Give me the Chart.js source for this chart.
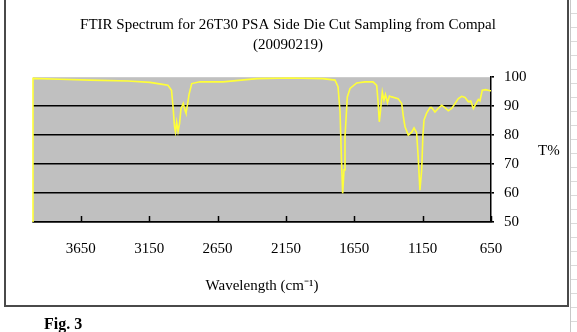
<!DOCTYPE html>
<html>
<head>
<meta charset="utf-8">
<script src="https://cdn.jsdelivr.net/npm/chart.js@4/dist/chart.umd.min.js"></script>
<style>
  body { margin: 0; background: #fff; }
  #pagina { position: relative; width: 577px; height: 332px; overflow: hidden; }
  #grafico { position: absolute; left: 0; top: 0; }
  #moldura { position: absolute; left: 4px; top: -3px; width: 561px; height: 306px; border: 2px solid #4a4a4a; pointer-events: none; }
  #planilha { position: absolute; left: 570px; top: 0; width: 7px; height: 332px; border-left: 1px solid #c8c8c8;
    background: repeating-linear-gradient(to bottom, transparent 0 13px, #dadada 13px 14px); }
  .texto { position: absolute; font-family: "Liberation Serif", "Times New Roman", serif; color: #000; }
  #eixoT { left: 538px; top: 142px; font-size: 15px; }
  #figura { left: 44px; top: 315px; font-size: 16px; font-weight: bold; }
</style>
</head>
<body>
<div id="pagina">
  <canvas id="grafico" width="577" height="332"></canvas>
  <div id="moldura"></div>
  <div id="planilha"></div>
  <div class="texto" id="eixoT">T%</div>
  <div class="texto" id="figura">Fig. 3</div>
</div>
<script>
const titulo = ["FTIR Spectrum for 26T30 PSA Side Die Cut Sampling from Compal", "(20090219)"];
const rotulosX = [3650, 3150, 2650, 2150, 1650, 1150, 650];
const rotulosY = [50, 60, 70, 80, 90, 100];

// wavenumber (cm-1) and transmittance
const numerosOnda = [4000, 4000, 3803, 3583, 3305, 3144, 3064, 3013, 2987, 2976, 2965, 2958, 2949, 2939, 2928, 2918,
  2901, 2888, 2881, 2870, 2859, 2839, 2779, 2610, 2362, 2120, 1879, 1791, 1769, 1754, 1744, 1735, 1725, 1718,
  1701, 1681, 1632, 1572, 1513, 1486, 1477, 1467, 1459, 1445, 1433, 1422, 1407, 1393, 1376, 1330, 1303, 1290,
  1279, 1255, 1230, 1213, 1194, 1182, 1170, 1157, 1148, 1140, 1121, 1096, 1084, 1060, 1036, 1011, 987, 962,
  938, 913, 889, 864, 840, 816, 798, 779, 760, 743, 731, 714, 689, 657, 650];
const transmitancia = [50, 99.6, 99.3, 99.0, 98.7, 98.2, 97.6, 97.2, 95.5, 90, 83, 81.1, 84.5, 81.3, 84, 89,
  90.9, 88.5, 87.6, 90.5, 94, 97.8, 98.4, 98.4, 99.5, 99.7, 99.5, 99.0, 96.7, 88, 72, 59.9, 68, 79.4,
  93.2, 96.1, 98.0, 98.4, 98.4, 97.2, 92, 84.6, 88, 94.9, 92, 94, 91.2, 93.5, 93.2, 92.6, 90.9, 86,
  82.9, 80, 81, 82.5, 80.8, 72, 61, 68, 80, 85.2, 87.6, 89.5, 89.5, 88, 89.2, 90.3, 89.5, 88.4,
  89.2, 90.9, 92.6, 93.4, 93, 91.5, 91.8, 89.2, 90.9, 92.3, 91.8, 95.5, 95.7, 95.3, 95.3];

const pontos = numerosOnda.map((x, i) => ({ x: x, y: transmitancia[i] }));
const fonteSerif = "'Liberation Serif', 'Times New Roman', serif";

// gray plot area like the Excel chart
const fundoCinza = {
  id: 'fundoCinza',
  beforeDraw(chart) {
    const { ctx, chartArea: a } = chart;
    ctx.save();
    ctx.fillStyle = '#c0c0c0';
    ctx.fillRect(a.left, a.top, a.right - a.left, a.bottom - a.top);
    ctx.restore();
  }
};

// tick marks on the x axis point up into the plot
const marcasInternas = {
  id: 'marcasInternas',
  afterDraw(chart) {
    const { ctx, chartArea: a } = chart;
    const escala = chart.scales.x;
    ctx.save();
    ctx.strokeStyle = '#000';
    ctx.lineWidth = 1.5;
    rotulosX.forEach((v) => {
      const px = Math.round(escala.getPixelForValue(v)) + 0.5;
      ctx.beginPath();
      ctx.moveTo(px, a.bottom);
      ctx.lineTo(px, a.bottom - 6);
      ctx.stroke();
    });
    ctx.restore();
  }
};

const grafico = new Chart(document.getElementById('grafico'), {
  type: 'line',
  data: {
    datasets: [{
      label: 'T%',
      data: pontos,
      borderColor: '#ffff38',
      borderWidth: 1.6,
      pointRadius: 0,
      tension: 0,
      clip: false
    }]
  },
  options: {
    responsive: false,
    animation: false,
    layout: { padding: { left: 33, right: 34, top: 5, bottom: 32 } },
    plugins: {
      legend: { display: false },
      tooltip: { enabled: false },
      title: {
        display: true,
        text: titulo,
        color: '#000',
        font: { family: fonteSerif, size: 15, weight: 'normal', lineHeight: 1.34 },
        padding: { top: 10, bottom: 22 }
      }
    },
    scales: {
      x: {
        type: 'linear',
        reverse: true,
        min: 650,
        max: 4000,
        afterBuildTicks: (s) => { s.ticks = rotulosX.map((v) => ({ value: v })); },
        afterFit: (s) => { s.height = 78; },
        grid: { display: false },
        border: { display: true, color: '#000', width: 1.5 },
        ticks: {
          autoSkip: false,
          maxRotation: 0,
          padding: 10,
          color: '#000',
          font: { family: fonteSerif, size: 15 },
          callback: (v) => String(v)
        },
        title: {
          display: true,
          text: 'Wavelength (cm⁻¹)',
          color: '#000',
          font: { family: fonteSerif, size: 15 },
          padding: { top: 0, bottom: 5 }
        }
      },
      y: {
        position: 'right',
        min: 50,
        max: 100,
        afterBuildTicks: (s) => { s.ticks = rotulosY.map((v) => ({ value: v })); },
        afterFit: (s) => { s.width = 52; },
        grid: {
          color: (c) => (c.tick && c.tick.value === 100 ? 'rgba(0,0,0,0)' : '#000'),
          tickColor: '#000',
          lineWidth: 1.6,
          tickLength: 3
        },
        border: { display: true, color: '#000', width: 1.5 },
        ticks: {
          padding: 10,
          color: '#000',
          font: { family: fonteSerif, size: 15 }
        }
      }
    }
  },
  plugins: [fundoCinza, marcasInternas]
});
</script>
</body>
</html>
